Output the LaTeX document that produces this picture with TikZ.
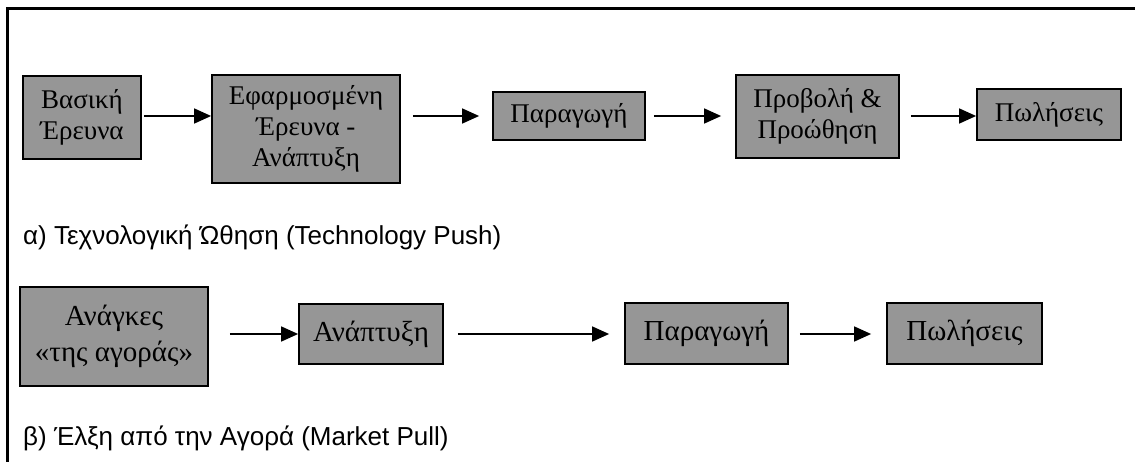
\documentclass[tikz,border=0pt]{standalone}
\usepackage{fontspec}
\setmainfont{Liberation Serif}
\newfontfamily\captionfont{Liberation Sans}
\usetikzlibrary{arrows.meta, positioning}
\definecolor{boxgray}{RGB}{150,150,150}

\begin{document}
\begin{tikzpicture}[x=1pt, y=-1pt,
    stagebox/.style={draw, fill=boxgray, line width=1.8pt, align=center, inner sep=0pt},
    small/.style={font=\fontsize{27}{31}\selectfont},
    large/.style={font=\fontsize{29}{36}\selectfont},
    flow/.style={-{Triangle[length=17pt, width=15pt]}, line width=1.6pt},
    caption/.style={anchor=base west, inner sep=0pt, font=\captionfont\fontsize{26}{30}\selectfont}]
    \useasboundingbox (0,0) rectangle (1135,462);

    % frame
    \draw[line width=3pt] (7,475) -- (7,9) -- (1145,9);

    % a) technology push
    \node[stagebox, small, minimum width=118pt, minimum height=83pt] (basic) at (82,117.5) {Βασική\\Έρευνα};
    \node[stagebox, small, minimum width=188pt, minimum height=108pt] (applied) at (306,129) {Εφαρμοσμένη\\Έρευνα -\\Ανάπτυξη};
    \node[stagebox, small, minimum width=152pt, minimum height=48pt] (prodA) at (569,116) {Παραγωγή};
    \node[stagebox, small, minimum width=163pt, minimum height=83pt] (promo) at (817.5,116.5) {Προβολή \&\\Προώθηση};
    \node[stagebox, small, minimum width=144pt, minimum height=51pt] (salesA) at (1049,114.5) {Πωλήσεις};

    \draw[flow, shorten <=2pt] (basic.east |- prodA.center) -- (applied.west |- prodA.center);
    \draw[flow, shorten <=12pt, shorten >=13pt] (applied.east |- prodA.center) -- (prodA.west);
    \draw[flow, shorten <=8pt, shorten >=14pt] (prodA.east) -- (promo.west |- prodA.center);
    \draw[flow, shorten <=11pt] (promo.east |- prodA.center) -- (salesA.west |- prodA.center);

    \node[caption] (capA) at (23,245) {α) Τεχνολογική Ώθηση (Technology Push)};

    % b) market pull
    \node[stagebox, large, minimum width=188pt, minimum height=99pt] (needs) at (114,336.5) {\raisebox{-4pt}{\begin{tabular}{@{}c@{}}Ανάγκες\\«της αγοράς»\end{tabular}}};
    \node[stagebox, large, minimum width=144pt, minimum height=60pt] (devel) at (371,334) {Ανάπτυξη};
    \node[stagebox, large, minimum width=163pt, minimum height=61pt] (prodB) at (706.5,333.5) {Παραγωγή};
    \node[stagebox, large, minimum width=155pt, minimum height=61pt] (salesB) at (964.5,333.5) {Πωλήσεις};

    \draw[flow, shorten <=21pt] (needs.east |- devel.center) -- (devel.west);
    \draw[flow, shorten <=14pt, shorten >=15pt] (devel.east) -- (prodB.west |- devel.center);
    \draw[flow, shorten <=11pt, shorten >=15pt] (prodB.east |- devel.center) -- (salesB.west |- devel.center);

    \node[caption] (capB) at (23,445) {β) Έλξη από την Αγορά (Market Pull)};
\end{tikzpicture}
\end{document}
